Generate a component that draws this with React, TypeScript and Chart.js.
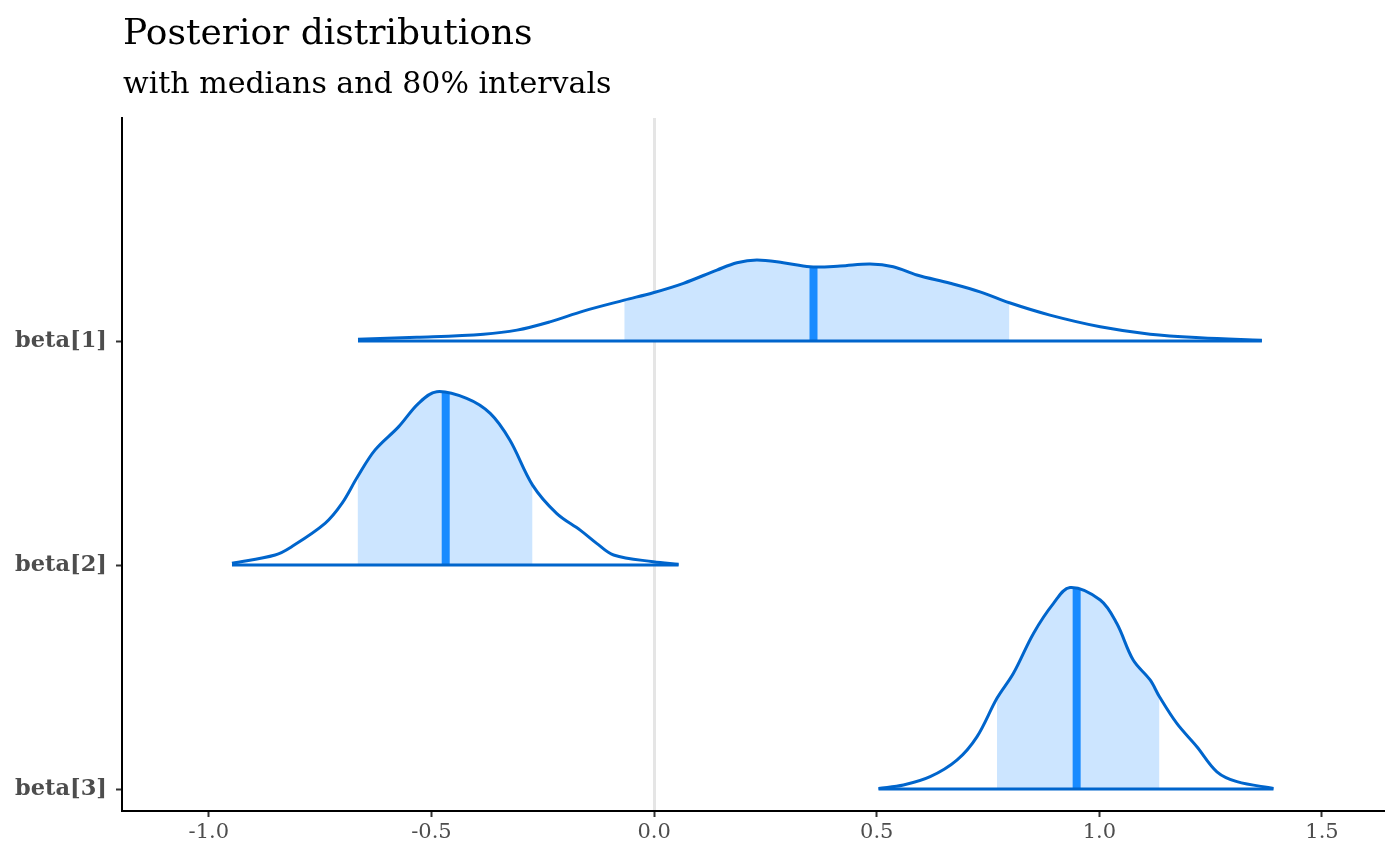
import React, { useEffect, useRef } from "react";
import { Chart, registerables } from "chart.js";

Chart.register(...registerables);

// ---- data ----
const titleText = "Posterior distributions";
const subtitleText = "with medians and 80% intervals";

const parameters = ["beta[1]", "beta[2]", "beta[3]"];

const beta1X = [-0.665, -0.533, -0.383, -0.308, -0.234, -0.159, -0.067, -0.002, 0.066, 0.141, 0.186, 0.231, 0.29, 0.35, 0.418, 0.485, 0.537, 0.59, 0.665, 0.732, 0.798, 0.889, 1.002, 1.114, 1.226, 1.365];
const beta1Density = [0.008, 0.017, 0.031, 0.049, 0.086, 0.134, 0.183, 0.216, 0.258, 0.317, 0.35, 0.362, 0.35, 0.332, 0.335, 0.344, 0.332, 0.295, 0.258, 0.22, 0.171, 0.116, 0.064, 0.031, 0.015, 0.004];

const beta2X = [-0.948, -0.851, -0.814, -0.739, -0.701, -0.666, -0.627, -0.574, -0.529, -0.488, -0.421, -0.368, -0.324, -0.273, -0.219, -0.166, -0.129, -0.091, -0.002, 0.055];
const beta2Density = [0.008, 0.045, 0.082, 0.186, 0.275, 0.394, 0.513, 0.617, 0.722, 0.774, 0.744, 0.677, 0.558, 0.357, 0.231, 0.156, 0.097, 0.045, 0.015, 0.004];

const beta3X = [0.504, 0.56, 0.62, 0.68, 0.725, 0.77, 0.807, 0.852, 0.897, 0.934, 1.002, 1.039, 1.076, 1.114, 1.135, 1.174, 1.219, 1.264, 1.309, 1.391];
const beta3Density = [0.003, 0.018, 0.055, 0.129, 0.233, 0.405, 0.517, 0.695, 0.829, 0.9, 0.844, 0.74, 0.576, 0.487, 0.412, 0.293, 0.189, 0.077, 0.033, 0.003];

const medians = [0.358, -0.468, 0.949];
const medianDensity = [0.329, 0.768, 0.893];
const intervalLow = [-0.067, -0.666, 0.77];
const intervalHigh = [0.798, -0.273, 1.135];

const xTicks = [-1.0, -0.5, 0.0, 0.5, 1.0, 1.5];
const yTicks = [1, 2, 3];

// ---- styles ----
const FONT = '"DejaVu Serif", "Liberation Serif", serif';
const DARK = "#0065cc";
const LIGHT = "#cce5ff";
const MID_HI = "#198bff";

const titlePlugin = {
  id: "leftTitle",
  afterDraw(chart: any) {
    const { ctx, chartArea } = chart;
    ctx.save();
    ctx.fillStyle = "#000000";
    ctx.textAlign = "left";
    ctx.textBaseline = "alphabetic";
    ctx.font = `36px ${FONT}`;
    ctx.fillText(titleText, chartArea.left + 1, 44);
    ctx.font = `30px ${FONT}`;
    ctx.fillText(subtitleText, chartArea.left + 1, 93);
    ctx.restore();
  },
};

export default function App() {
  const ref = useRef<HTMLCanvasElement | null>(null);

  useEffect(() => {
    if (!ref.current) return;
    const xs = [beta1X, beta2X, beta3X];
    const ds = [beta1Density, beta2Density, beta3Density];
    const datasets: any[] = [];
    parameters.forEach((p, i) => {
      const base = yTicks[yTicks.length - 1 - i];
      const pts = xs[i].map((x, k) => ({ x, y: base + ds[i][k] }));
      const inner = pts.filter((pt) => pt.x >= intervalLow[i] && pt.x <= intervalHigh[i]);
      datasets.push({
        label: p + " interval",
        data: inner,
        fill: { value: base },
        backgroundColor: LIGHT,
        borderWidth: 0,
        pointRadius: 0,
        tension: 0.35,
        order: 3,
      });
      datasets.push({
        label: p + " median",
        data: [
          { x: medians[i], y: base },
          { x: medians[i], y: base + medianDensity[i] },
        ],
        borderColor: MID_HI,
        borderWidth: 8,
        borderCapStyle: "butt",
        pointRadius: 0,
        fill: false,
        order: 2,
      });
      datasets.push({
        label: p + " baseline",
        data: [
          { x: xs[i][0], y: base },
          { x: xs[i][xs[i].length - 1], y: base },
        ],
        borderColor: DARK,
        borderWidth: 3,
        pointRadius: 0,
        fill: false,
        order: 1,
      });
      datasets.push({
        label: p,
        data: pts,
        borderColor: DARK,
        borderWidth: 3,
        pointRadius: 0,
        fill: false,
        tension: 0.35,
        order: 0,
      });
    });

    const chart = new Chart(ref.current, {
      type: "line",
      data: { datasets },
      options: {
        animation: false,
        responsive: true,
        maintainAspectRatio: false,
        layout: { padding: { top: 118, right: 17, left: 0, bottom: 0 } },
        plugins: {
          legend: { display: false },
          tooltip: { enabled: false },
          title: { display: false },
        },
        events: [],
        scales: {
          x: {
            type: "linear",
            min: -1.195,
            max: 1.637,
            afterBuildTicks: (scale: any) => {
              scale.ticks = xTicks.map((v) => ({ value: v }));
            },
            afterFit: (scale: any) => {
              scale.height = 55;
            },
            ticks: {
              color: "#4d4d4d",
              font: { family: FONT, size: 21 },
              padding: 3,
              maxRotation: 0,
              autoSkip: false,
              callback: (v: any) => Number(v).toFixed(1),
            },
            grid: {
              color: (c: any) => (c.tick && c.tick.value === 0 ? "#e5e5e5" : "rgba(0,0,0,0)"),
              lineWidth: 3,
              drawTicks: true,
              tickLength: 6,
              tickColor: "#333333",
              tickWidth: 2,
            },
            border: { display: true, color: "#000000", width: 2 },
          },
          y: {
            type: "linear",
            min: 0.902,
            max: 3.996,
            afterBuildTicks: (scale: any) => {
              scale.ticks = yTicks.map((v) => ({ value: v }));
            },
            afterFit: (scale: any) => {
              scale.width = 122;
            },
            ticks: {
              color: "#4d4d4d",
              font: { family: FONT, size: 22.5, weight: "bold" },
              padding: 9,
              autoSkip: false,
              callback: (v: any) => parameters[yTicks.length - Number(v)],
            },
            grid: {
              drawOnChartArea: false,
              drawTicks: true,
              tickLength: 6,
              tickColor: "#333333",
              tickWidth: 2,
            },
            border: { display: true, color: "#000000", width: 2 },
          },
        },
      },
      plugins: [titlePlugin],
    } as any);
    return () => chart.destroy();
  }, []);

  return (
    <div style={{ position: "absolute", left: 0, top: 0, width: 1400, height: 866, background: "#ffffff" }}>
      <canvas ref={ref} />
    </div>
  );
}
